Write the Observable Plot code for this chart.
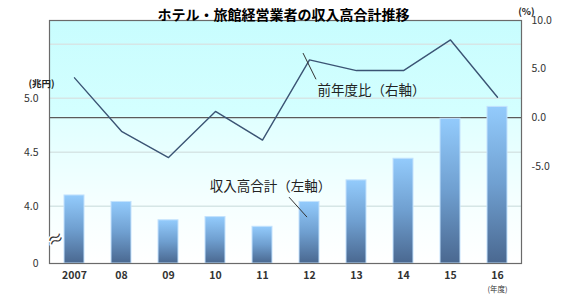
<!DOCTYPE html>
<html>
<head>
<meta charset="utf-8">
<script src="https://cdn.jsdelivr.net/npm/d3@7"></script>
<script src="https://cdn.jsdelivr.net/npm/@observablehq/plot@0.6"></script>
<style>
  html, body { margin: 0; padding: 0; background: #fff; }
  svg { display: block; }
</style>
</head>
<body>
<div id="chart"></div>
<script>
// ---- data ----
const years = ["2007", "08", "09", "10", "11", "12", "13", "14", "15", "16"];
const revenue = [4.10, 4.04, 3.87, 3.90, 3.81, 4.04, 4.24, 4.44, 4.81, 4.92]; // 兆円 (left axis)
const yoy = [4.1, -1.4, -4.1, 0.65, -2.3, 5.95, 4.85, 4.85, 8.0, 2.1];       // % (right axis)
const leftTicks = [4.0, 4.5, 5.0];
const gridTicks = [4.0, 4.5, 5.0, 5.5];
const rightTicks = [10, 5, 0, -5];
const title = "ホテル・旅館経営業者の収入高合計推移";
const lineLabel = "前年度比（右軸）";
const barLabel = "収入高合計（左軸）";

const data = years.map((year, i) => ({year, revenue: revenue[i], yoy: yoy[i]}));

// left axis domain (axis broken at bottom, labelled "0")
const yMin = 3.47, yMax = 5.72;
const rMin = -15, rMax = 10;
const R = v => yMin + (v - rMin) * (yMax - yMin) / (rMax - rMin);
const Rinv = y => rMin + (y - yMin) * (rMax - rMin) / (yMax - yMin);

const font = "'Noto Sans CJK JP', 'Noto Sans', sans-serif";

function leaders(index, scales) {
  const x = scales.x, y = scales.y;
  const bw = x.bandwidth ? x.bandwidth() : 0;
  const cx = c => x(c) + bw / 2;
  const g = document.createElementNS("http://www.w3.org/2000/svg", "g");
  const segs = [
    [cx("12") - 6, y(R(6.6)), cx("12") + 7, y(R(3.9))],
    [cx("12") - 20, y(4.08), cx("12") - 2, y(3.895)]
  ];
  for (const [x1, y1, x2, y2] of segs) {
    const l = document.createElementNS("http://www.w3.org/2000/svg", "line");
    l.setAttribute("x1", x1); l.setAttribute("y1", y1);
    l.setAttribute("x2", x2); l.setAttribute("y2", y2);
    l.setAttribute("stroke", "#333");
    l.setAttribute("stroke-width", "1");
    g.appendChild(l);
  }
  return g;
}

const chart = Plot.plot({
  width: 567,
  height: 302,
  marginLeft: 49,
  marginRight: 46,
  marginTop: 20,
  marginBottom: 39,
  style: {fontFamily: font, background: "#fff", color: "#333"},
  x: {domain: years, paddingInner: 0.58, paddingOuter: 0.29, axis: null, label: null},
  y: {domain: [yMin, yMax], axis: null, label: null},
  marks: [
    Plot.frame({fill: "url(#bgGrad)", stroke: null}),
    Plot.gridY(gridTicks, {stroke: "#d6e6e6", strokeOpacity: 1, strokeWidth: 1.3}),
    Plot.ruleY([R(0)], {stroke: "#5a5a5a", strokeWidth: 1.2}),
    Plot.barY(data, {x: "year", y1: yMin, y2: "revenue", fill: "url(#barGrad)", stroke: "#c3e2fd", strokeWidth: 1}),
    Plot.line(data, {x: "year", y: d => R(d.yoy), stroke: "#3b5474", strokeWidth: 1.4}),
    Plot.frame({stroke: "#6a6a6a", strokeWidth: 1.2}),
    Plot.axisX({tickSize: 0, tickPadding: 8, fontSize: 10.5, fill: "#333", fontWeight: "bold", label: null}),
    Plot.axisY([yMin, ...leftTicks], {anchor: "left", tickSize: 0, tickPadding: 11, fontSize: 10.5, fill: "#333", label: null,
      tickFormat: d => d < 3.9 ? "0" : d.toFixed(1)}),
    Plot.axisY(rightTicks.map(R), {anchor: "right", tickSize: 0, tickPadding: 10, fontSize: 10.5, fill: "#333", label: null,
      tickFormat: d => (Math.round(Rinv(d) * 10) / 10).toFixed(1)}),
    // axis break mark
    Plot.text(["≈"], {frameAnchor: "bottom-left", dy: -15, dx: 1, fontSize: 17, rotate: -25,
      fill: "#333", stroke: "#fff", strokeWidth: 3}),
    // titles and units
    Plot.text([title], {frameAnchor: "top", dx: -2, dy: -10, fontSize: 14, fontWeight: "bold", fill: "#000"}),
    Plot.text(["(兆円)"], {frameAnchor: "top-left", dx: -21, dy: 60, fontSize: 9.5, fontWeight: "bold", fill: "#222"}),
    Plot.text(["(%)"], {frameAnchor: "top-right", dx: 13, dy: -12, fontSize: 9.5, fontWeight: "bold", fill: "#222"}),
    Plot.text(["(年度)"], {x: () => "16", frameAnchor: "bottom", dy: 28, fontSize: 7.5, fill: "#333"}),
    // annotations
    Plot.text([lineLabel], {x: () => "13", y: () => 5.072, dx: 15, fontSize: 13.5, fill: "#222"}),
    Plot.text([barLabel], {x: () => "11", y: () => 4.183, dx: 8, fontSize: 13.5, fill: "#222"}),
    leaders
  ]
});

// gradients
const svg = d3.select(chart);
const defs = svg.insert("defs", ":first-child");
const bar = defs.append("linearGradient").attr("id", "barGrad")
  .attr("x1", 0).attr("y1", 0).attr("x2", 0).attr("y2", 1);
bar.append("stop").attr("offset", 0).attr("stop-color", "#93cbfc");
bar.append("stop").attr("offset", 0.5).attr("stop-color", "#6f9fd0");
bar.append("stop").attr("offset", 1).attr("stop-color", "#4a6890");
const bg = defs.append("linearGradient").attr("id", "bgGrad")
  .attr("x1", 0).attr("y1", 0).attr("x2", 0).attr("y2", 1);
[[0, "#c8fdfe"], [0.39, "#d4ffff"], [0.40, "#e0ffff"], [0.75, "#f5ffff"], [1, "#ffffff"]]
  .forEach(([o, c]) => bg.append("stop").attr("offset", o).attr("stop-color", c));

document.getElementById("chart").appendChild(chart);
</script>
</body>
</html>
